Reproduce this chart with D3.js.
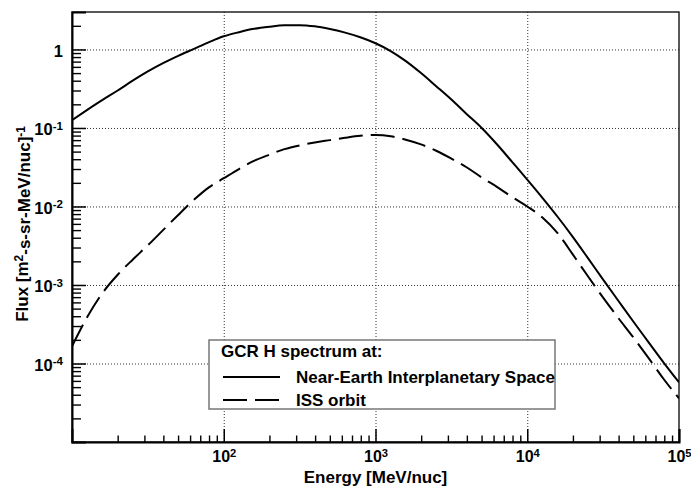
<!DOCTYPE html>
<html>
<head>
<meta charset="utf-8">
<script src="https://cdn.jsdelivr.net/npm/d3@7"></script>
<style>
  body { margin: 0; background: #fff; }
  text { font-family: "Liberation Sans", Arial, Helvetica, sans-serif; font-weight: bold; fill: #000; }
</style>
</head>
<body>
<svg id="chart"></svg>
<script>
// energy grid [MeV/nuc]
const energy = [10, 12.6, 15.8, 20, 25.1, 31.6, 39.8, 50.1, 63.1, 79.4,
  100, 126, 158, 200, 251, 316, 398, 501, 631, 794,
  1000, 1259, 1585, 1995, 2512, 3162, 3981, 5012, 6310, 7943,
  10000, 12589, 15849, 19953, 25119, 31623, 39811, 50119, 63096, 79433, 100000]

// flux [m^2-s-sr-MeV/nuc]^-1
const nearEarthFlux = [0.126, 0.17, 0.226, 0.30, 0.40, 0.525, 0.67, 0.83, 1.01, 1.23,
  1.47, 1.66, 1.83, 1.95, 2.03, 2.04, 1.97, 1.82, 1.64, 1.43,
  1.20, 0.955, 0.71, 0.50, 0.34, 0.23, 0.151, 0.10, 0.062, 0.037,
  0.022, 0.0129, 0.0074, 0.0041, 0.0022, 0.00117, 6.3e-4, 3.4e-4, 1.86e-4, 1.02e-4, 5.75e-5]

const issFlux = [1.66e-4, 3.9e-4, 7.8e-4, 1.35e-3, 2.1e-3, 3.2e-3, 5.0e-3, 7.8e-3, 0.012, 0.0174,
  0.0229, 0.030, 0.038, 0.0457, 0.0537, 0.060, 0.0653, 0.070, 0.075, 0.0794,
  0.0813, 0.0785, 0.0708, 0.0617, 0.0513, 0.0407, 0.0316, 0.0234, 0.0178, 0.0132,
  0.0100, 0.00724, 0.00457, 0.00245, 0.00129, 6.9e-4, 3.8e-4, 2.14e-4, 1.17e-4, 6.3e-5, 3.6e-5]

const xLabelValues = [100, 1000, 10000, 100000]
const yLabelValues = [1e-4, 1e-3, 1e-2, 1e-1, 1]
const legendHeader = "GCR H spectrum at:"
const seriesNames = ["Near-Earth Interplanetary Space", "ISS orbit"]

var W = 691, H = 486
var margin = {top: 12, right: 12, bottom: 44, left: 72}

var svg = d3.select("#chart").attr("width", W).attr("height", H)

var x = d3.scaleLog().domain([10, 1e5]).range([margin.left, W - margin.right])
var y = d3.scaleLog().domain([1e-5, 3]).range([H - margin.bottom, margin.top])

var plotW = W - margin.left - margin.right
var plotH = H - margin.top - margin.bottom

// minor tick positions
var xMinor = []
for (var d = 10; d < 1e5; d *= 10) for (var m = 2; m <= 9; m++) xMinor.push(d * m)
var yMinor = []
for (var d = 1e-5; d < 3; d *= 10) for (var m = 2; m <= 9; m++) if (d * m < 3) yMinor.push(d * m)

function expo(v) {
  return Math.round(Math.log10(v))
}

// grid
svg.append("g")
    .attr("transform", `translate(0,${H - margin.bottom})`)
    .call(d3.axisBottom(x).tickValues([100, 1000, 10000]).tickSize(-plotH).tickFormat(""))
    .call(g => g.select(".domain").remove())
    .call(g => g.selectAll("line").attr("stroke", "#333").attr("stroke-dasharray", "1,2"))

svg.append("g")
    .attr("transform", `translate(${margin.left},0)`)
    .call(d3.axisLeft(y).tickValues([1e-4, 1e-3, 1e-2, 1e-1, 1]).tickSize(-plotW).tickFormat(""))
    .call(g => g.select(".domain").remove())
    .call(g => g.selectAll("line").attr("stroke", "#333").attr("stroke-dasharray", "1,2"))

// curves
svg.append("defs").append("clipPath").attr("id", "clip")
  .append("rect").attr("x", margin.left).attr("y", margin.top).attr("width", plotW).attr("height", plotH)

var line = d3.line()
    .x(d => x(d[0]))
    .y(d => y(d[1]))
    .curve(d3.curveMonotoneX)

var curves = svg.append("g").attr("clip-path", "url(#clip)")

curves.append("path")
    .datum(energy.map((e, i) => [e, nearEarthFlux[i]]))
    .attr("fill", "none")
    .attr("stroke", "#000")
    .attr("stroke-width", 2)
    .attr("d", line)

curves.append("path")
    .datum(energy.map((e, i) => [e, issFlux[i]]))
    .attr("fill", "none")
    .attr("stroke", "#000")
    .attr("stroke-width", 2)
    .attr("stroke-dasharray", "24,8")
    .attr("d", line)

// frame
svg.append("rect")
    .attr("x", margin.left).attr("y", margin.top)
    .attr("width", plotW).attr("height", plotH)
    .attr("fill", "none").attr("stroke", "#000").attr("stroke-width", 1.3)

// x axis
svg.append("g")
    .attr("transform", `translate(0,${H - margin.bottom})`)
    .call(d3.axisBottom(x).tickValues(xMinor).tickSize(-6.5).tickFormat(""))
    .call(g => g.select(".domain").remove())
    .call(g => g.selectAll("line").attr("stroke-width", 1.4))

var xAxis = svg.append("g")
    .attr("transform", `translate(0,${H - margin.bottom})`)
    .call(d3.axisBottom(x).tickValues(xLabelValues).tickSize(-13).tickFormat(""))
    .call(g => g.select(".domain").attr("stroke-width", 2))
    .call(g => g.selectAll("line").attr("stroke-width", 1.5))

xAxis.selectAll(".tick text")
    .attr("y", 20).attr("dy", 0)
    .attr("font-size", 16)
    .each(function(v) {
      var t = d3.select(this)
      t.append("tspan").text("10")
      t.append("tspan").attr("dy", "-0.45em").attr("font-size", "0.7em").text(expo(v))
    })

// y axis
svg.append("g")
    .attr("transform", `translate(${margin.left},0)`)
    .call(d3.axisLeft(y).tickValues(yMinor).tickSize(-9).tickFormat(""))
    .call(g => g.select(".domain").remove())
    .call(g => g.selectAll("line").attr("stroke-width", 1.4))

var yAxis = svg.append("g")
    .attr("transform", `translate(${margin.left},0)`)
    .call(d3.axisLeft(y).tickValues(yLabelValues).tickSize(-14).tickPadding(9).tickFormat(""))
    .call(g => g.select(".domain").attr("stroke-width", 2))
    .call(g => g.selectAll("line").attr("stroke-width", 1.5))

yAxis.selectAll(".tick text")
    .attr("font-size", 16.5)
    .attr("dy", "0.4em")
    .each(function(v) {
      var t = d3.select(this)
      var e = expo(v)
      if (e === 0) { t.text("1"); return }
      t.append("tspan").text("10")
      t.append("tspan").attr("dy", "-0.45em").attr("font-size", "0.7em").text("-" + Math.abs(e))
    })

// axis titles
svg.append("text")
    .attr("x", (margin.left + W - margin.right) / 2)
    .attr("y", 483)
    .attr("text-anchor", "middle")
    .attr("font-size", 17)
    .text("Energy [MeV/nuc]")

var yTitle = svg.append("text")
    .attr("transform", "translate(28,224) rotate(-90)")
    .attr("text-anchor", "middle")
    .attr("font-size", 17)
yTitle.append("tspan").text("Flux [m")
yTitle.append("tspan").attr("dy", "-0.45em").attr("font-size", "0.7em").text("2")
yTitle.append("tspan").attr("dy", "0.45em").text("-s-sr-MeV/nuc]")
yTitle.append("tspan").attr("dy", "-0.45em").attr("font-size", "0.7em").text("-1")

// legend
var legend = svg.append("g")
legend.append("rect")
    .attr("x", 209).attr("y", 340).attr("width", 346).attr("height", 69)
    .attr("fill", "#fff").attr("stroke", "#777").attr("stroke-width", 1.5)

legend.append("text").attr("x", 221).attr("y", 357).attr("font-size", 17).text(legendHeader)

var dashes = [null, "24,8"]
seriesNames.forEach((name, i) => {
  var yy = 377 + i * 23
  legend.append("line")
      .attr("x1", 223).attr("x2", 280).attr("y1", yy).attr("y2", yy)
      .attr("stroke", "#000").attr("stroke-width", 2)
      .attr("stroke-dasharray", dashes[i])
  legend.append("text")
      .attr("x", 296).attr("y", yy + 6)
      .attr("font-size", 17)
      .text(name)
})
</script>
</body>
</html>
